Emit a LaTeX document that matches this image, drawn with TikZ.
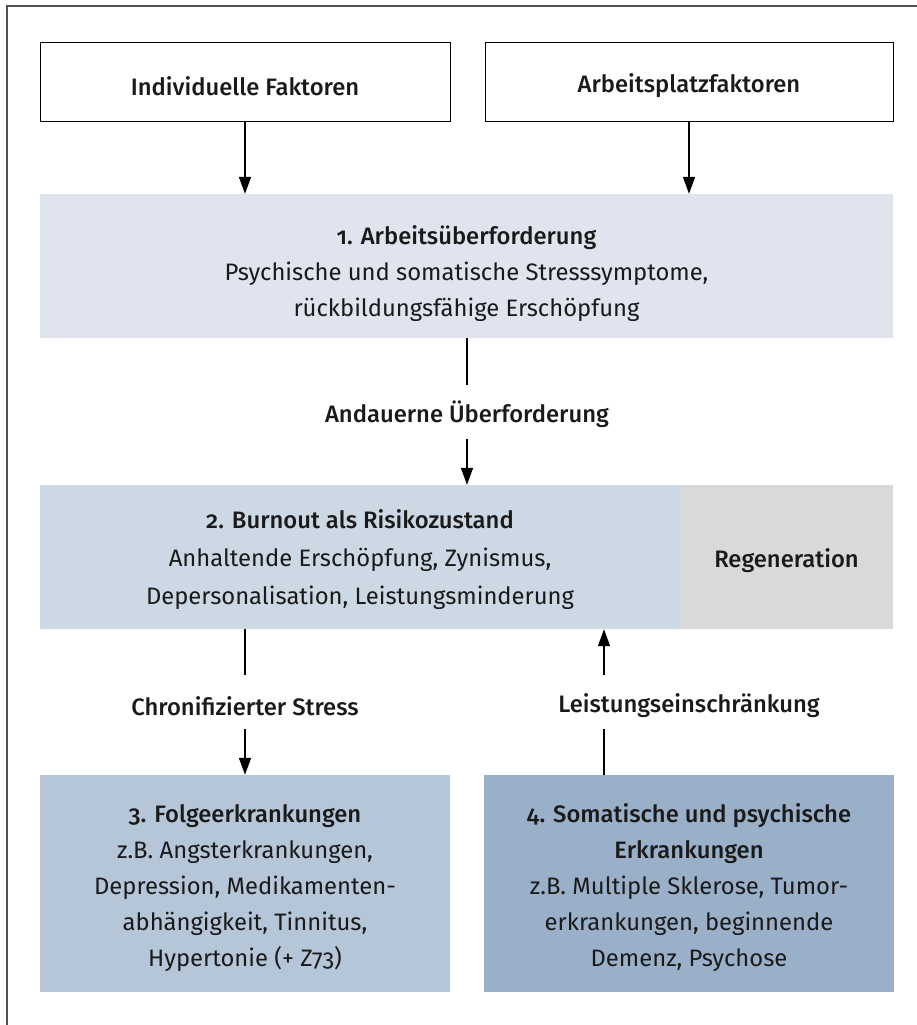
\documentclass[tikz,border=0pt]{standalone}
\usepackage{fontspec}
\setmainfont{Fira Sans}[Numbers=OldStyle, BoldFont={Fira Sans Medium}]
\usetikzlibrary{arrows.meta}
\definecolor{frameC}{HTML}{505050}
\definecolor{txt}{HTML}{1A1A1A}
\definecolor{c1}{HTML}{DFE4EE}
\definecolor{c2}{HTML}{CCD8E4}
\definecolor{cr}{HTML}{D9D9D9}
\definecolor{c3}{HTML}{B4C6D8}
\definecolor{c4}{HTML}{9AB0C8}
\newcommand{\firstline}[1]{\rule{0pt}{#1pt}}
\tikzset{
  every node/.style={text=txt, font=\fontsize{23.8}{36}\selectfont, inner sep=0pt, align=center,
    execute at begin node={\rule{0pt}{27pt}}},
  multi/.style={execute at begin node={}},
  topbox/.style={draw=black, line width=1pt, fill=white, minimum height=78pt},
  stagebox/.style={draw=none, minimum height=144pt},
  lowbox/.style={draw=none, minimum width=410pt, minimum height=217pt, multi},
  lbl/.style={minimum height=54pt},
  conn/.style={line width=1.6pt, black},
  arr/.style={conn, -{Triangle[width=12pt,length=17pt]}}
}
\begin{document}
\begin{tikzpicture}[x=1pt,y=-1pt]
\useasboundingbox (0,0) rectangle (917,1025);
\draw[frameC, line width=2pt] (7,1025) -- (7,6) -- (917,6);

\node[topbox, minimum width=410pt] (ind) at (245,82) {\textbf{Individuelle Faktoren}};
\node[topbox, minimum width=408pt] (arb) at (689,82) {\textbf{Arbeitsplatzfaktoren}};

\node[stagebox, multi, fill=c1, minimum width=853pt] (s1) at (466.5,266)
  {\firstline{35}\textbf{1. Arbeitsüberforderung}\\Psychische und somatische Stresssymptome,\\rückbildungsfähige Erschöpfung};

\node[stagebox, multi, fill=c2, minimum width=640pt, font=\fontsize{23.8}{38}\selectfont] (s2) at (360,557)
  {\firstline{24}\textbf{2. Burnout als Risikozustand}\\Anhaltende Erschöpfung, Zynismus,\\Depersonalisation, Leistungsminderung};
\node[stagebox, fill=cr, minimum width=213pt] (reg) at (786.5,557) {\textbf{Regeneration}};

\node[lowbox, fill=c3] (s3) at (245,883.5)
  {\firstline{27}\textbf{3. Folgeerkrankungen}\\z.B. Angsterkrankungen,\\Depression, Medikamenten-\\abhängigkeit, Tinnitus,\\Hypertonie (+ Z73)};
\node[lowbox, fill=c4] (s4) at (689,883.5)
  {\firstline{27}\textbf{4. Somatische und psychische}\\\textbf{Erkrankungen}\\z.B. Multiple Sklerose, Tumor-\\erkrankungen, beginnende\\Demenz, Psychose};

\node[lbl] (l1) at (467,412) {\textbf{Andauerne Überforderung}};
\node[lbl] (l2) at (245,702) {\textbf{Chronifizierter Stress}};
\node[lbl] (l3) at (689,702) {\textbf{Leistungseinschränkung}};
\coordinate (ax) at (604,702);

\draw[arr] (ind.south) -- (ind.south |- s1.north);
\draw[arr] (arb.south) -- (arb.south |- s1.north);
\draw[conn] (s1.south -| l1) -- (l1.north);
\draw[arr] (l1.south) -- (l1.south |- s2.north);
\draw[conn] (s2.south -| l2) -- (l2.north);
\draw[arr] (l2.south) -- (l2.south |- s3.north);
\draw[conn] (s4.north -| ax) -- (ax |- l3.south);
\draw[arr] (ax |- l3.north) -- (ax |- s2.south);
\end{tikzpicture}
\end{document}
